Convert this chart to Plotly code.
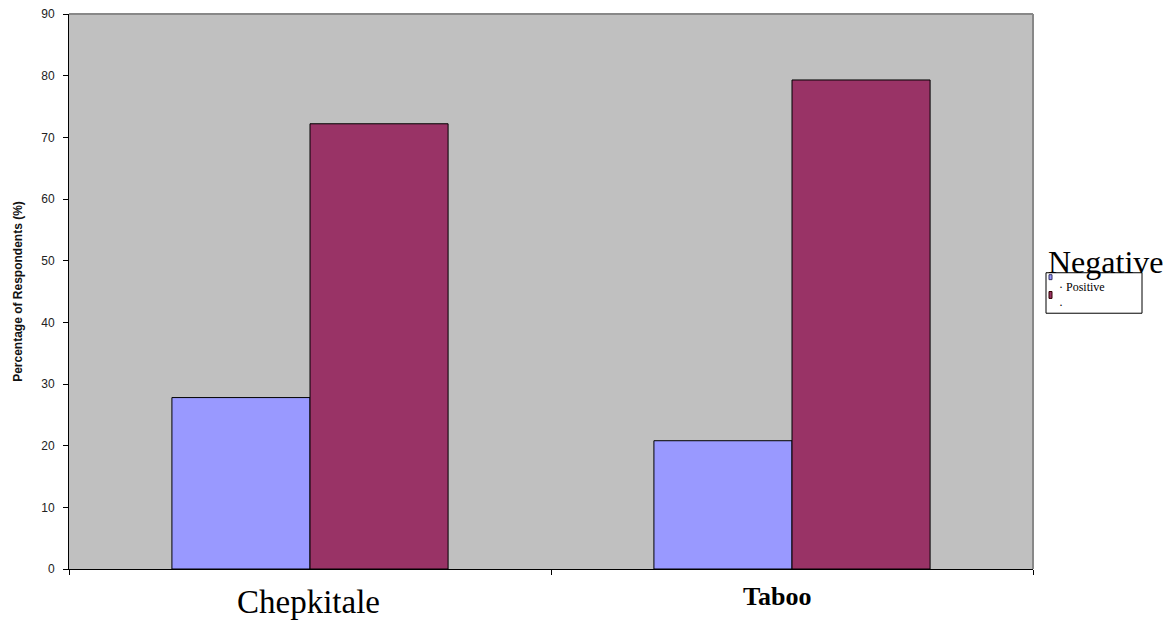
import plotly.graph_objects as go

categories = ["Chepkitale", "Taboo"]
series_names = ["Negative", "Positive"]
negative = [27.8, 20.8]
positive = [72.2, 79.3]
y_ticks = [0, 10, 20, 30, 40, 50, 60, 70, 80, 90]

W, H = 1168, 620
M_L, M_R, M_T, M_B = 69, 135, 7, 51
PW, PH = W - M_L - M_R, H - M_T - M_B

fig = go.Figure()
fig.add_trace(go.Bar(x=[0, 1], y=negative, name=series_names[0],
                     marker=dict(color="#9999FF", line=dict(color="black", width=1))))
fig.add_trace(go.Bar(x=[0, 1], y=positive, name=series_names[1],
                     marker=dict(color="#993366", line=dict(color="black", width=1))))

fig.update_layout(
    width=W, height=H,
    margin=dict(l=M_L, r=M_R, t=M_T, b=M_B),
    paper_bgcolor="white", plot_bgcolor="#C0C0C0",
    barmode="group", bargap=0.427, bargroupgap=0,
    showlegend=False,
    font=dict(family="Liberation Sans, Arial", size=12, color="#222"),
)
fig.update_xaxes(range=[-0.5, 1.5], tickvals=[-0.5, 0.5, 1.5], ticktext=["", "", ""],
                 ticks="outside", ticklen=5, tickcolor="black",
                 showline=True, linecolor="black", linewidth=1,
                 showgrid=False, zeroline=False)
fig.update_yaxes(range=[0, 90], tickvals=y_ticks, ticks="outside", ticklen=5,
                 tickcolor="black", showline=True, linecolor="black", linewidth=1,
                 ticklabelstandoff=6,
                 showgrid=False, zeroline=False,
                 title=dict(text="<b>Percentage of Respondents (%)</b>",
                            font=dict(size=12, color="#111"), standoff=16))

# top and right border of the plot area
fig.add_shape(type="line", xref="paper", yref="paper", x0=0, x1=1, y0=1, y1=1,
              line=dict(color="#888888", width=2))
fig.add_shape(type="line", xref="paper", yref="paper", x0=1, x1=1, y0=0, y1=1,
              line=dict(color="#888888", width=2))

# category labels
fig.add_annotation(x=0, y=0, xref="x", yref="paper", yshift=-53, text=categories[0],
                   showarrow=False, xshift=-2,
                   font=dict(family="Liberation Serif", size=33, color="black"))
fig.add_annotation(x=1, y=0, xref="x", yref="paper", yshift=-44, text="<b>" + categories[1] + "</b>",
                   showarrow=False, xshift=-15,
                   font=dict(family="Liberation Serif", size=26, color="black"))

# legend box (pixel positions converted to paper coordinates)
def px_x(v):
    return (v - M_L) / PW


def px_y(v):
    return (H - M_B - v) / PH


fig.add_shape(type="rect", xref="paper", yref="paper",
              x0=px_x(1046), x1=px_x(1142), y0=px_y(310), y1=px_y(269),
              line=dict(color="black", width=1), fillcolor="white")
fig.add_shape(type="rect", xref="paper", yref="paper",
              x0=px_x(1049), x1=px_x(1052), y0=px_y(276), y1=px_y(271),
              line=dict(color="#333366", width=1), fillcolor="#9999FF")
fig.add_shape(type="rect", xref="paper", yref="paper",
              x0=px_x(1049), x1=px_x(1052), y0=px_y(295), y1=px_y(288),
              line=dict(color="#330000", width=1), fillcolor="#993366")
fig.add_annotation(x=px_x(1046), y=px_y(258), xref="paper", yref="paper",
                   xanchor="left", yanchor="middle", text=series_names[0], showarrow=False,
                   font=dict(family="Liberation Serif", size=32, color="black"))
fig.add_annotation(x=px_x(1057), y=px_y(283), xref="paper", yref="paper",
                   xanchor="left", yanchor="middle", text="· " + series_names[1], showarrow=False,
                   font=dict(family="Liberation Serif", size=12, color="black"))
fig.add_annotation(x=px_x(1057), y=px_y(302), xref="paper", yref="paper",
                   xanchor="left", yanchor="middle", text="·", showarrow=False,
                   font=dict(family="Liberation Serif", size=12, color="black"))

fig.write_html("out.html")
